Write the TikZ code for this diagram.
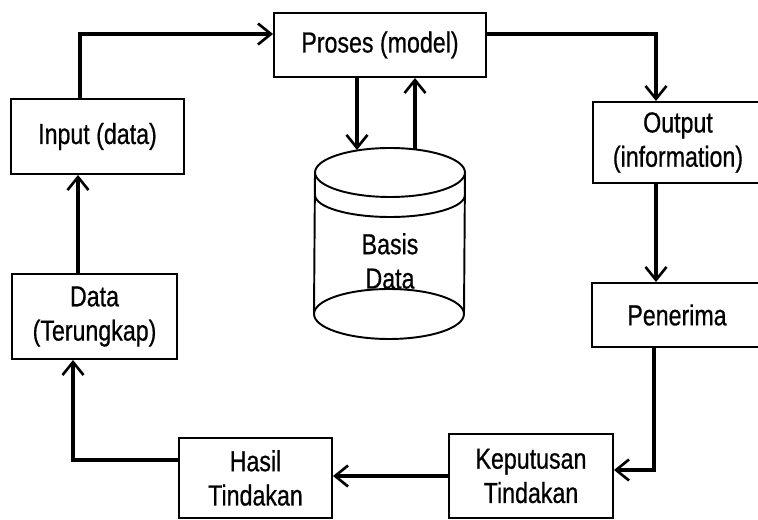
\documentclass[tikz,border=0pt]{standalone}
\usepackage{fontspec}
\setmainfont{Liberation Sans}[FakeStretch=0.8, FakeBold=0.6]
\usetikzlibrary{arrows.meta}

\begin{document}
\begin{tikzpicture}[x=0.02cm, y=-0.02cm,
    box/.style={draw, line width=1.1pt, rectangle, align=center, inner sep=0pt,
        font=\fontsize{16.5}{19.5}\selectfont},
    arr/.style={line width=1.8pt, -{Straight Barb[length=2.6mm, width=4.2mm, line width=1.5pt]}},
    can/.style={line width=1.1pt}]

    % frame of the picture
    \useasboundingbox (0,0) rectangle (758,520);
    \clip (0,0) rectangle (758,520);

    % Boxes
    \node[box, minimum width=4.24cm, minimum height=1.28cm] (proses) at (380,45) {Proses (model)};
    \node[box, minimum width=3.46cm, minimum height=1.5cm] (input) at (97.5,136.5) {Input (data)};
    \node[box, minimum width=3.4cm, minimum height=1.62cm] (output) at (678,142.5) {Output\\(information)};
    \node[box, minimum width=3.4cm, minimum height=1.28cm] (penerima) at (677,315) {Penerima};
    \node[box, minimum width=3.28cm, minimum height=1.68cm] (keputusan) at (531,476) {Keputusan\\Tindakan};
    \node[box, minimum width=3.06cm, minimum height=1.6cm] (hasil) at (255.5,478) {Hasil\\Tindakan};
    \node[box, minimum width=3.3cm, minimum height=1.7cm] (data) at (94.5,316.5) {Data\\(Terungkap)};

    % Basis Data (cylinder)
    \draw[can] (390,172.5) ellipse (1.5cm and 0.49cm);
    \draw[can] (315,195) arc (180:360:1.5cm and 0.44cm);
    \draw[can] (315,172.5) -- (314,314);
    \draw[can] (465,172.5) -- (464,314);
    \draw[can] (389,314) ellipse (1.5cm and 0.5cm);
    \node[box, draw=none] (basis) at (390,261) {Basis\\Data};

    % bend points
    \coordinate (c1) at (80,34);
    \coordinate (c2) at (656,34);
    \coordinate (c3) at (654,470);
    \coordinate (c5) at (73,460);
    \coordinate (c6) at (78,0);
    \coordinate (dbin) at (357,150);
    \coordinate (dbout) at (415,149);

    % Arrows
    \draw[arr] (input.north -| c1) |- (proses.west |- c1);
    \draw[arr] (proses.east |- c2) -| (output.north -| c2);
    \draw[arr] (proses.south -| dbin) -- (dbin);
    \draw[arr] (dbout) -- (proses.south -| dbout);
    \draw[arr] (output.south -| c2) -- (penerima.north -| c2);
    \draw[arr] (penerima.south -| c3) |- (keputusan.east |- c3);
    \draw[arr] (keputusan.west) -- (hasil.east |- keputusan.west);
    \draw[arr] (hasil.west |- c5) -| (data.south -| c5);
    \draw[arr] (data.north -| c6) -- (input.south -| c6);
\end{tikzpicture}
\end{document}
